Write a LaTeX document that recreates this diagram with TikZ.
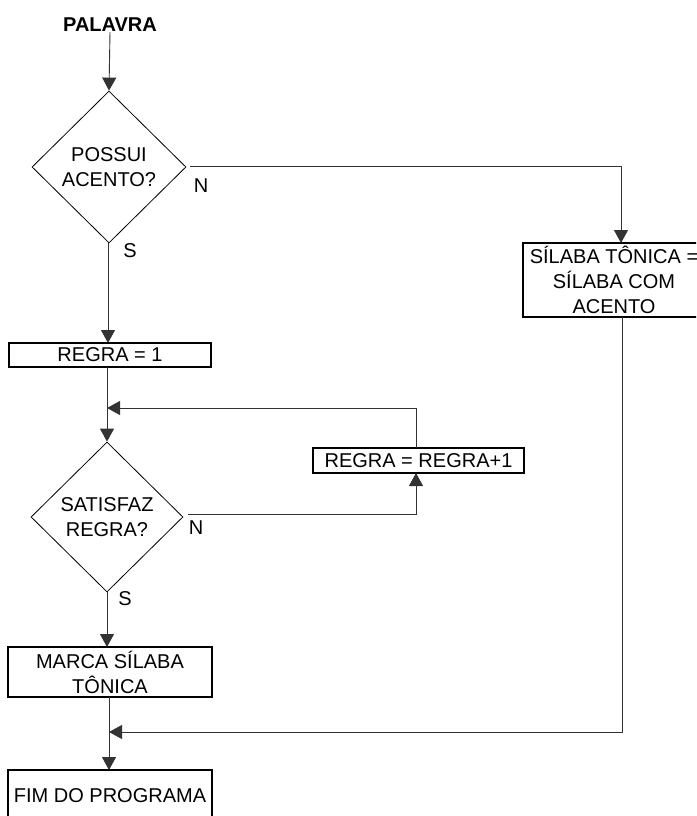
\documentclass[tikz,border=0pt]{standalone}
\usepackage{fontspec}
\setmainfont{Liberation Sans}
\usetikzlibrary{shapes.geometric,arrows.meta}
\begin{document}
\begin{tikzpicture}[x=1pt,y=-1pt,
  every node/.style={font=\fontsize{20}{25}\selectfont},
  procbox/.style={draw=black,line width=2.6pt,rectangle,inner sep=0pt,align=center},
  decision/.style={draw=black,line width=0.8pt,diamond,inner sep=0pt,align=center,minimum width=154pt,minimum height=152pt},
  conn/.style={draw=black!80,line width=0.9pt},
  arr/.style={conn,-{Triangle[length=13pt,width=14pt]}},
  lbl/.style={inner sep=0pt}
]
\clip (0,0) rectangle (696,816);
\fill[white] (0,0) rectangle (696,816);

\node[lbl,font=\fontsize{20}{25}\selectfont\bfseries] (pal) at (110,25) {PALAVRA};
\node[decision] (d1) at (109,167) {POSSUI\\ACENTO?};
\node[procbox,minimum width=182pt,minimum height=74pt] (sil) at (614,280) {SÍLABA TÔNICA =\\SÍLABA COM\\ACENTO};
\node[procbox,minimum width=202pt,minimum height=24pt] (r1) at (110,355) {REGRA = 1};
\node[decision,minimum width=152pt,minimum height=150pt] (d2) at (107,517) {SATISFAZ\\REGRA?};
\node[procbox,minimum width=211pt,minimum height=25pt] (rp) at (418.5,460.5) {REGRA = REGRA+1};
\node[procbox,minimum width=204pt,minimum height=50pt] (mk) at (110,672) {MARCA SÍLABA\\TÔNICA};
\node[procbox,minimum width=204pt,minimum height=52pt] (fim) at (110,796) {FIM DO PROGRAMA};

\node[lbl] (n1) at (201,186) {N};
\node[lbl] (s1) at (130,251) {S};
\node[lbl] (n2) at (196,528) {N};
\node[lbl] (s2) at (125,599) {S};

\coordinate (d1e) at (190,166);
\coordinate (siln) at (621,243);
\coordinate (sils) at (622,317);
\coordinate (d1s) at (108,243);
\coordinate (r1n) at (108,343);
\coordinate (r1s) at (107,367);
\coordinate (loop) at (107,408);
\coordinate (d2e) at (188,514);
\coordinate (rps) at (416,473);
\coordinate (rpn) at (416,448);
\coordinate (d2s) at (107,592);
\coordinate (mkn) at (107,647);
\coordinate (mks) at (109,697);
\coordinate (merge) at (109,732);
\coordinate (fimn) at (109,770);

\draw[arr] (pal.south) -- (d1.north);
\draw[arr] (d1e) -| (siln);
\draw[arr] (d1s) -- (r1n);
\draw[arr] (r1s) -- (d2.north);
\draw[arr] (rpn) |- (loop);
\draw[arr] (d2e) -| (rps);
\draw[arr] (d2s) -- (mkn);
\draw[arr] (mks) -- (fimn);
\draw[arr] (sils) |- (merge);
\end{tikzpicture}
\end{document}
